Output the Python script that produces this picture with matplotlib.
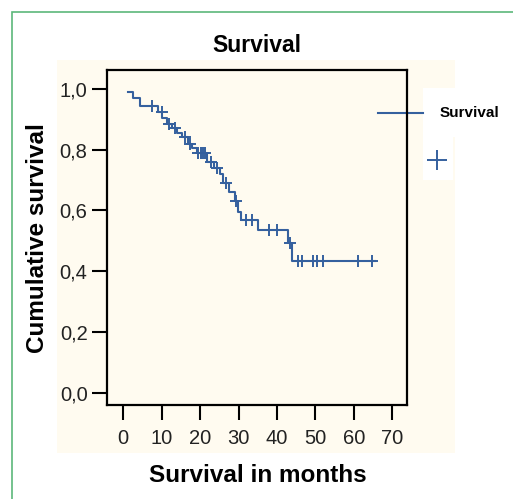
import numpy as np
import matplotlib
matplotlib.use("Agg")
import matplotlib.pyplot as plt
from matplotlib.patches import Rectangle
from matplotlib.lines import Line2D

plt.rcParams['font.family'] = ['Liberation Sans', 'DejaVu Sans']

# Kaplan-Meier curve: time of each step and level after it
step_t = [1.3, 2.6, 4.4, 9.0, 10.2, 11.5, 12.8, 14.0, 15.4, 16.8, 18.0,
          19.2, 21.8, 23.5, 25.2, 26.0, 27.5, 29.0, 29.8, 30.6, 35.0,
          42.9, 44.0, 65.5]
step_s = [0.99, 0.97, 0.945, 0.925, 0.905, 0.885, 0.87, 0.855, 0.84, 0.82,
          0.805, 0.79, 0.76, 0.74, 0.72, 0.69, 0.66, 0.63, 0.595, 0.57,
          0.536, 0.493, 0.434, 0.434]
# censored observations (months)
censor_t = [7.5, 10.0, 12.0, 13.5, 16.0, 17.5, 19.5, 20.2, 20.8, 21.4, 22.8,
            24.5, 26.8, 29.3, 32.0, 33.5, 37.8, 40.0, 43.5, 45.5, 46.5,
            49.4, 50.4, 51.9, 61.0, 64.7]

x_ticks = [0, 10, 20, 30, 40, 50, 60, 70]
y_ticks = [0.0, 0.2, 0.4, 0.6, 0.8, 1.0]
y_labels = ["0,0", "0,2", "0,4", "0,6", "0,8", "1,0"]

W, H = 513, 499
BLUE = "#35609e"
CREAM = "#fffbf0"


def px(x, y):
    # pixel coords (from top-left) -> figure fraction
    return x / W, 1 - y / H


fig = plt.figure(figsize=(W / 100, H / 100), dpi=100)
fig.patch.set_facecolor("white")

# green frame (right and bottom edges fall outside the image) and cream panel
fig.add_artist(Rectangle(px(12, 700), 800 / W, 688 / H, fill=False,
                         edgecolor="#5cb87a", lw=1.2, zorder=-3))
fig.add_artist(Rectangle(px(57, 453), (455 - 57) / W, (453 - 60) / H,
                         facecolor=CREAM, edgecolor="none", zorder=-2))

l, b = px(107, 405)
ax = fig.add_axes([l, b, 300 / W, 335 / H])
ax.patch.set_visible(False)

ax.step(step_t, step_s, where="post", color=BLUE, lw=1.5)
idx = np.searchsorted(step_t, censor_t, side="right") - 1
censor_s = np.array(step_s)[idx]
ax.plot(censor_t, censor_s, ls="none", marker="+", ms=8, mew=1.4, color=BLUE)

ax.set_xlim(-4.2, 73.8)
ax.set_ylim(-0.04, 1.062)
ax.set_xticks(x_ticks)
ax.set_yticks(y_ticks)
ax.set_yticklabels(y_labels)
for s in ax.spines.values():
    s.set_linewidth(1.6)
ax.tick_params(axis="both", length=11, width=1.5, labelsize=14.5, colors="black")
ax.tick_params(axis="x", pad=6)
ax.tick_params(axis="y", pad=3)
for t in ax.get_xticklabels() + ax.get_yticklabels():
    t.set_color("#222222")

fig.text(*px(257, 52), "Survival", ha="center", va="baseline",
         fontsize=16.5, fontweight="bold")
fig.text(*px(258, 482), "Survival in months", ha="center", va="baseline",
         fontsize=17.5, fontweight="bold")
fig.text(*px(38, 238), "Cumulative survival", ha="center", va="center",
         rotation=90, fontsize=17.5, fontweight="bold")

# legend drawn by hand, partly outside the plot frame
fig.add_artist(Rectangle(px(423, 137), 90 / W, 49 / H, facecolor="white",
                         edgecolor="none", zorder=-1.5))
fig.add_artist(Rectangle(px(423, 180), 30 / W, 43 / H, facecolor="white",
                         edgecolor="none", zorder=-1.5))
x0, y0 = px(378, 113)
x1, _ = px(423, 113)
fig.add_artist(Line2D([x0, x1], [y0, y0], color=BLUE, lw=1.5, zorder=-1))
fig.text(*px(440, 113), "Survival", ha="left", va="center",
         fontsize=11, fontweight="bold")
fig.add_artist(Line2D([px(437, 0)[0]], [px(0, 160)[1]], ls="none", marker="+",
                      ms=15, mew=1.4, color=BLUE, zorder=-1))

fig.savefig("out.png", dpi=100)
